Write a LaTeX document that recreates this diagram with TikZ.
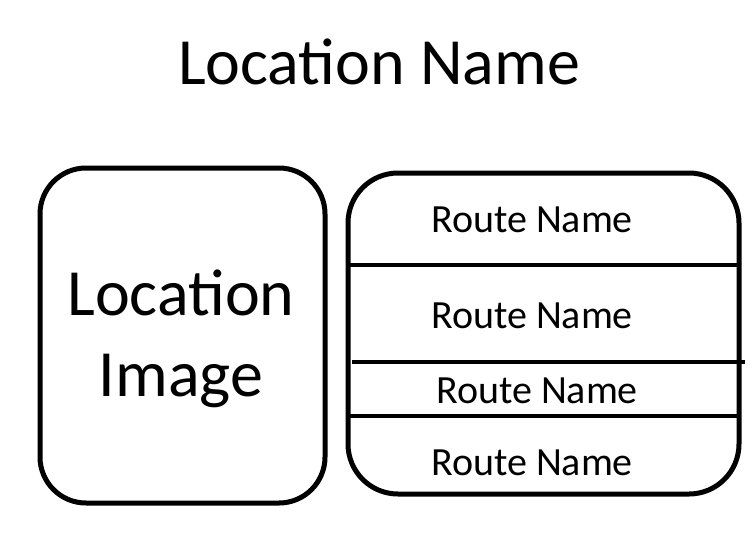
\documentclass[tikz,border=0pt]{standalone}
\usepackage{fontspec}
\setmainfont{Carlito}
\usetikzlibrary{positioning,calc}
\definecolor{locink}{HTML}{000000}
\tikzset{
  panel/.style={draw=locink, line width=5pt, rounded corners=46pt, inner sep=0pt},
  rowline/.style={draw=locink, line width=4pt},
  bigtxt/.style={font=\fontsize{66}{81}\selectfont, align=center, inner sep=0pt},
  routetxt/.style={font=\fontsize{40}{44}\selectfont, inner sep=0pt, anchor=base},
}
\begin{document}
\begin{tikzpicture}[x=1pt,y=-1pt]
  \useasboundingbox[fill=white] (0,0) rectangle (753,542);
  % title
  \node[bigtxt, anchor=base] (title) at (379,84) {Location Name};
  % image panel
  \node[panel, minimum width=285pt, minimum height=335pt] (imgbox) at (182.5,335.5) {};
  \node[bigtxt] (imgtxt) at (181,339) {Location\\Image};
  % route panel
  \node[panel, rounded corners=50pt, minimum width=391pt, minimum height=321pt] (routebox) at (543.5,333.5) {};
  \coordinate (l1a) at (348,265); \coordinate (l1b) at (739,265);
  \coordinate (l2a) at (352,362); \coordinate (l2b) at (745,362);
  \coordinate (l3a) at (348,416); \coordinate (l3b) at (739,416);
  \draw[rowline] (l1a) -- (l1b);
  \draw[rowline] (l2a) -- (l2b);
  \draw[rowline] (l3a) -- (l3b);
  \node[routetxt] (route1) at (532,232) {Route Name};
  \node[routetxt] (route2) at (532,328) {Route Name};
  \node[routetxt] (route3) at (537,403) {Route Name};
  \node[routetxt] (route4) at (532,475) {Route Name};
\end{tikzpicture}
\end{document}
